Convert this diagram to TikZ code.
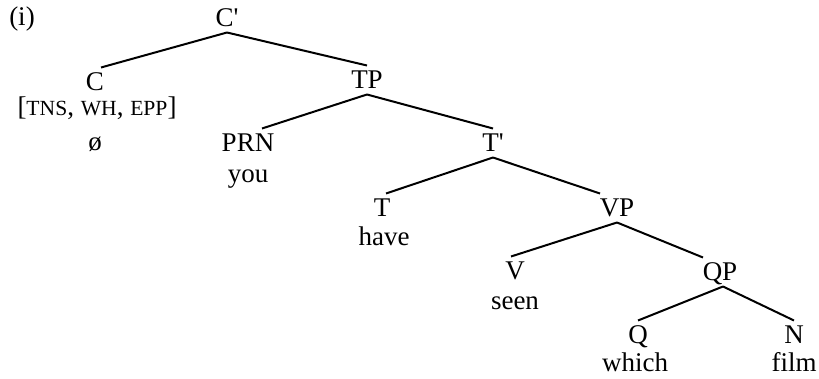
\documentclass[tikz,border=0pt]{standalone}
\usepackage{fontspec}
\setmainfont{Liberation Serif}
\usetikzlibrary{calc}

\newcommand{\fsc}[1]{{\fontsize{10.8}{12}\selectfont #1}}

\begin{document}
\begin{tikzpicture}[x=0.5pt, y=-0.5pt, font=\fontsize{13.5}{16}\selectfont,
    cat/.style={inner xsep=1pt, inner ysep=2.75pt, text height=8.6pt, text depth=0pt},
    word/.style={inner sep=1pt, text height=6pt, text depth=0pt},
    branch/.style={line width=1pt}]

        \useasboundingbox (0,0) rectangle (819,379);

        %
        \node[word] (ex) at (22,20) {(i)};

        %
        \node[cat] (Cbar) at (227,18) {C\textquotesingle};
        \node[cat] (C) at (95,82) {C};
        \node[word] (feat) at (97,110) {[\fsc{TNS}, \fsc{WH}, \fsc{EPP}]};
        \node[word] (null) at (95,145) {ø};
        \node[cat] (TP) at (367,80) {TP};
        \node[cat] (PRN) at (248,143) {PRN};
        \node[word] (you) at (248,177) {you};
        \node[cat] (Tbar) at (493,143) {T\textquotesingle};
        \node[cat] (T) at (382,208) {T};
        \node[word] (have) at (384,240) {have};
        \node[cat] (VP) at (617,208) {VP};
        \node[cat] (V) at (515,271) {V};
        \node[word] (seen) at (515,303) {seen};
        \node[cat] (QP) at (720,272) {QP};
        \node[cat] (Q) at (638,335) {Q};
        \node[word] (which) at (635,365) {which};
        \node[cat] (N) at (794,335) {N};
        \node[word] (film) at (794,365) {film};

        %
        \draw[branch] (Cbar.south) -- ($(C.north)+(6,0)$);
        \draw[branch] (Cbar.south) -- (TP.north);
        \draw[branch] (TP.south) -- ($(PRN.north)+(14,0)$);
        \draw[branch] (TP.south) -- (Tbar.north);
        \draw[branch] (Tbar.south) -- ($(T.north)+(4,0)$);
        \draw[branch] (Tbar.south) -- ($(VP.north)+(-17,0)$);
        \draw[branch] (VP.south) -- ($(V.north)+(-4,0)$);
        \draw[branch] (VP.south) -- ($(QP.north)+(-17,0)$);
        \draw[branch] ($(QP.south)+(3,0)$) -- (Q.north);
        \draw[branch] ($(QP.south)+(3,0)$) -- (N.north);

\end{tikzpicture}
\end{document}
